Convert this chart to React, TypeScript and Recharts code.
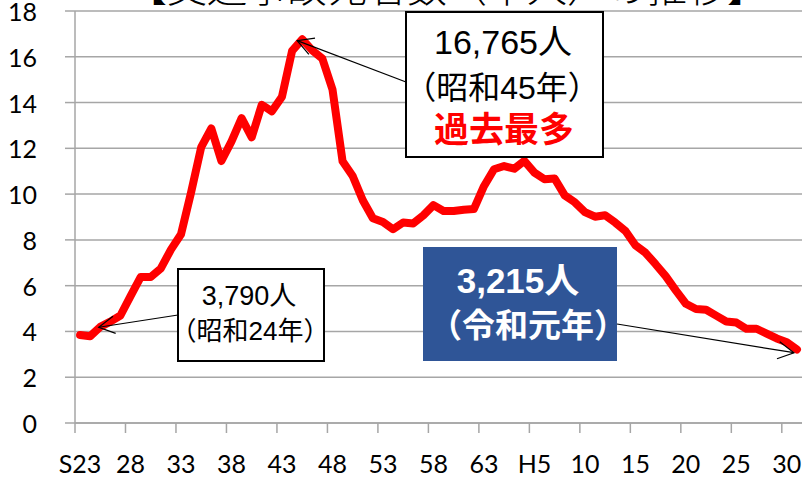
import React from 'react';
import { LineChart, Line, XAxis, YAxis, CartesianGrid, ReferenceDot } from 'recharts';

// ---- data ----
const YEARS = [
  1948, 1949, 1950, 1951, 1952, 1953, 1954, 1955, 1956, 1957, 1958, 1959,
  1960, 1961, 1962, 1963, 1964, 1965, 1966, 1967, 1968, 1969, 1970, 1971,
  1972, 1973, 1974, 1975, 1976, 1977, 1978, 1979, 1980, 1981, 1982, 1983,
  1984, 1985, 1986, 1987, 1988, 1989, 1990, 1991, 1992, 1993, 1994, 1995,
  1996, 1997, 1998, 1999, 2000, 2001, 2002, 2003, 2004, 2005, 2006, 2007,
  2008, 2009, 2010, 2011, 2012, 2013, 2014, 2015, 2016, 2017, 2018, 2019,
];
// deaths, thousands of people
const DEATHS_THOUSANDS = [
  3.848, 3.790, 4.202, 4.429, 4.696, 5.544, 6.374, 6.379, 6.751, 7.575, 8.248, 10.079,
  12.055, 12.865, 11.445, 12.301, 13.318, 12.484, 13.904, 13.618, 14.256, 16.257, 16.765, 16.278,
  15.918, 14.574, 11.432, 10.792, 9.734, 8.945, 8.783, 8.466, 8.760, 8.719, 9.073, 9.520,
  9.262, 9.261, 9.317, 9.347, 10.344, 11.086, 11.227, 11.109, 11.452, 10.942, 10.649, 10.684,
  9.943, 9.642, 9.214, 9.012, 9.073, 8.757, 8.396, 7.768, 7.436, 6.937, 6.415, 5.796,
  5.209, 4.979, 4.948, 4.691, 4.438, 4.388, 4.113, 4.117, 3.904, 3.694, 3.532, 3.215,
];
const X_TICK_YEARS = [1948, 1953, 1958, 1963, 1968, 1973, 1978, 1983, 1988, 1993, 1998, 2003, 2008, 2013, 2018];
const X_TICK_LABELS = ['S23', '28', '33', '38', '43', '48', '53', '58', '63', 'H5', '10', '15', '20', '25', '30'];
const Y_TICKS = [0, 2, 4, 6, 8, 10, 12, 14, 16, 18];
const TITLE = '【交通事故死者数（千人）の推移】';

const PEAK = { year: 1970, value: 16.765, lines: ['16,765人', '（昭和45年）', '過去最多'] };
const FIRST = { year: 1949, value: 3.79, lines: ['3,790人', '（昭和24年）'] };
const LAST = { year: 2019, value: 3.215, lines: ['3,215人', '（令和元年）'] };

// ---- layout ----
const W = 805;
const H = 478;
const MARGIN = { top: 11, right: 3, bottom: 0, left: 0 };
const X_AXIS_H = 55;
const Y_AXIS_W = 75;
const PLOT_LEFT = MARGIN.left + Y_AXIS_W;
const PLOT_RIGHT = W - MARGIN.right;
const PLOT_BOTTOM = H - MARGIN.bottom - X_AXIS_H;
const HALF_CAT = (PLOT_RIGHT - PLOT_LEFT) / YEARS.length / 2;
const GRID = '#A6A6A6';
const AXIS_FONT = 'Lato, "Open Sans", sans-serif';
const BOX_FONT = '"Liberation Sans", "Noto Sans CJK JP", sans-serif';
const CJK_FONT = '"Noto Sans CJK JP", sans-serif';

const data = YEARS.map((year, i) => ({ year, deaths: DEATHS_THOUSANDS[i] }));

function XTick(props: any) {
  const { x, payload } = props;
  const idx = X_TICK_YEARS.indexOf(payload.value);
  const bx = x - HALF_CAT;
  return (
    <g>
      <line x1={bx} x2={bx} y1={PLOT_BOTTOM} y2={PLOT_BOTTOM + 10} stroke={GRID} strokeWidth={1.5} />
      <text x={x} y={PLOT_BOTTOM + 50} textAnchor="middle" fontFamily={AXIS_FONT} fontSize={25} fill="#000">
        {X_TICK_LABELS[idx]}
      </text>
    </g>
  );
}

function YTick(props: any) {
  const { y, payload } = props;
  return (
    <text x={37} y={y + 10} textAnchor="end" fontFamily={AXIS_FONT} fontSize={25} fill="#000">
      {payload.value}
    </text>
  );
}

function Arrow({ tail, tx, ty }: { tail: [number, number]; tx: number; ty: number }) {
  const ang = Math.atan2(tail[1] - ty, tail[0] - tx);
  const L = 18;
  const a = 0.5;
  const p1 = [tx + L * Math.cos(ang + a), ty + L * Math.sin(ang + a)];
  const p2 = [tx + L * Math.cos(ang - a), ty + L * Math.sin(ang - a)];
  return (
    <g>
      <line x1={tail[0]} y1={tail[1]} x2={tx} y2={ty} stroke="#000" strokeWidth={1.2} />
      <polyline
        points={`${p1[0]},${p1[1]} ${tx},${ty} ${p2[0]},${p2[1]}`}
        fill="none"
        stroke="#000"
        strokeWidth={1.2}
      />
    </g>
  );
}

function PeakShape(p: any) {
  return (
    <g>
      <rect x={406} y={12} width={197} height={145} fill="#fff" stroke="#000" strokeWidth={2} />
      <text x={503} y={54} textAnchor="middle" fontFamily={BOX_FONT} fontSize={34} fill="#000">{PEAK.lines[0]}</text>
      <text x={502} y={99} textAnchor="middle" fontFamily={BOX_FONT} fontSize={32} fill="#000">{PEAK.lines[1]}</text>
      <text x={504} y={142} textAnchor="middle" fontFamily={CJK_FONT} fontWeight={700} fontSize={35} fill="#FF0000">{PEAK.lines[2]}</text>
      <Arrow tail={[406, 82]} tx={p.cx - 5} ty={p.cy + 1.4} />
    </g>
  );
}

function FirstShape(p: any) {
  return (
    <g>
      <rect x={178} y={269} width={146} height={92} fill="#fff" stroke="#000" strokeWidth={2} />
      <text x={249} y={305} textAnchor="middle" fontFamily={BOX_FONT} fontSize={27} fill="#000">{FIRST.lines[0]}</text>
      <text x={250} y={340} textAnchor="middle" fontFamily={BOX_FONT} fontSize={26} fill="#000">{FIRST.lines[1]}</text>
      <Arrow tail={[178, 315]} tx={p.cx + 8.6} ty={p.cy - 9} />
    </g>
  );
}

function LastShape(p: any) {
  return (
    <g>
      <rect x={423} y={247} width={194} height={114} fill="#2F5597" />
      <text x={518} y={293} textAnchor="middle" fontFamily={BOX_FONT} fontWeight={700} fontSize={35} fill="#fff">{LAST.lines[0]}</text>
      <text x={528} y={337} textAnchor="middle" fontFamily={CJK_FONT} fontWeight={700} fontSize={33} fill="#fff">{LAST.lines[1]}</text>
      <Arrow tail={[617, 324]} tx={p.cx - 3} ty={p.cy + 3.3} />
    </g>
  );
}

export default function App() {
  return (
    <div style={{ position: 'absolute', left: 0, top: 0, width: W, height: H, background: '#fff' }}>
      <LineChart width={W} height={H} data={data} margin={MARGIN}>
        <CartesianGrid vertical={false} stroke={GRID} strokeWidth={1.5} />
        <XAxis
          type="number"
          dataKey="year"
          domain={[1947.5, 2019.5]}
          ticks={X_TICK_YEARS}
          interval={0}
          tickLine={false}
          axisLine={{ stroke: GRID, strokeWidth: 1.5 }}
          tick={<XTick />}
          height={X_AXIS_H}
        />
        <YAxis
          domain={[0, 18]}
          ticks={Y_TICKS}
          interval={0}
          width={Y_AXIS_W}
          tickSize={10}
          tickLine={{ stroke: GRID, strokeWidth: 1.5 }}
          axisLine={{ stroke: GRID, strokeWidth: 1.5 }}
          tick={<YTick />}
        />
        <Line
          type="linear"
          dataKey="deaths"
          stroke="#FF0000"
          strokeWidth={8}
          strokeLinejoin="round"
          strokeLinecap="round"
          dot={false}
          activeDot={false}
          isAnimationActive={false}
        />
        <ReferenceDot x={PEAK.year} y={PEAK.value} shape={PeakShape} />
        <ReferenceDot x={FIRST.year} y={FIRST.value} shape={FirstShape} />
        <ReferenceDot x={LAST.year} y={LAST.value} shape={LastShape} />
      </LineChart>
      <svg width={W} height={H} style={{ position: 'absolute', left: 0, top: 0, pointerEvents: 'none' }}>
        <text x={447} y={2} textAnchor="middle" fontFamily={CJK_FONT} fontWeight={300} fontSize={40} fill="#000">{TITLE}</text>
      </svg>
    </div>
  );
}
